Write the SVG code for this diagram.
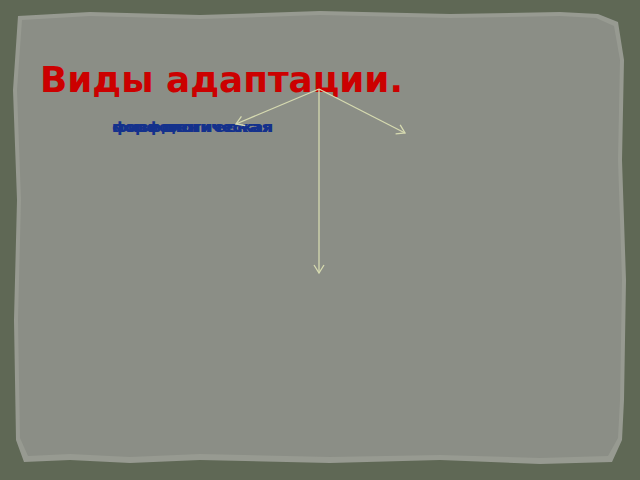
<svg xmlns="http://www.w3.org/2000/svg" width="640" height="480" viewBox="0 0 640 480">
<style>
.t{font-family:"DejaVu Sans",sans-serif;font-weight:bold}
.w{font-family:"DejaVu Sans",sans-serif;font-weight:bold;font-size:14px;fill:#14318c}
.c{stroke:#d6dab0;stroke-width:1.3;fill:none}
</style>
<defs>
<marker id="a" markerWidth="12" markerHeight="12" refX="10" refY="6" orient="auto" markerUnits="userSpaceOnUse">
<path d="M2,1 L10,6 L2,11" fill="none" stroke="#d6dab0" stroke-width="1.3"/>
</marker>
</defs>
<rect width="640" height="480" fill="#5f6855"/>
<g id="paper">
<path d="M18,16 L90,12 L200,15 L320,11 L450,14 L560,12 L598,14 L618,22 L624,60 L622,160 L626,280 L624,400 L622,440 L612,462 L540,464 L440,460 L330,463 L200,460 L130,463 L70,460 L24,462 L16,440 L14,320 L17,200 L13,90 Z" fill="#979a91"/>
<path d="M22,20 L90,16 L200,19 L320,15 L450,18 L560,16 L596,18 L614,26 L620,60 L618,160 L622,280 L620,400 L618,438 L608,456 L540,458 L440,455 L330,457 L200,454 L130,457 L70,454 L28,456 L20,438 L18,320 L21,200 L17,90 Z" fill="#8b8e86"/>
</g>
<g id="title"><text class="t" x="40" y="92" font-size="29" fill="#cc0000" textLength="363" lengthAdjust="spacingAndGlyphs" style="font-size:35px">Виды адаптации.</text></g>
<g id="labels">
<text class="w" x="112" y="132" textLength="161" lengthAdjust="spacingAndGlyphs">физиологическая</text>
<text class="w" x="112" y="132" textLength="161" lengthAdjust="spacingAndGlyphs">морфологическая</text>
<text class="w" x="112" y="132" textLength="161" lengthAdjust="spacingAndGlyphs">поведенческая</text>
</g>
<g id="connectors">
<line class="c" x1="319" y1="89" x2="236" y2="124" marker-end="url(#a)"/>
<line class="c" x1="319" y1="89" x2="405" y2="133" marker-end="url(#a)"/>
<line class="c" x1="319" y1="89" x2="319" y2="273" marker-end="url(#a)"/>
</g>
</svg>
